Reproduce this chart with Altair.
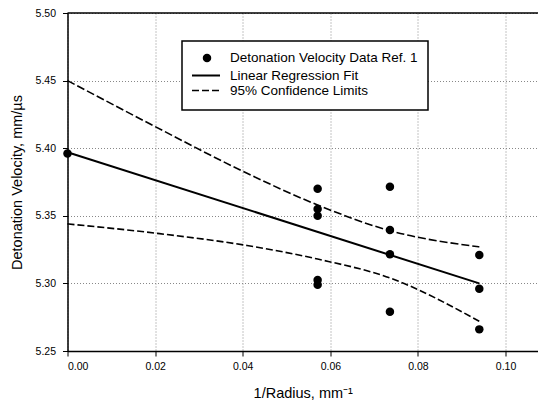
import altair as alt
import pandas as pd

# Data
x_data = [0.0, 0.0571, 0.0571, 0.0571, 0.0571, 0.0571, 0.0736, 0.0736, 0.0736, 0.0736, 0.094, 0.094, 0.094]
y_data = [5.396, 5.370, 5.355, 5.350, 5.3025, 5.299, 5.3715, 5.3395, 5.3215, 5.279, 5.321, 5.296, 5.266]

fit_x = [0.0, 0.094]
fit_y = [5.397, 5.300]

upper_x = [0.0, 0.02, 0.04, 0.0571, 0.0736, 0.094]
upper_y = [5.450, 5.416, 5.383, 5.358, 5.339, 5.327]

lower_x = [0.0, 0.0205, 0.041, 0.0571, 0.0736, 0.094]
lower_y = [5.344, 5.337, 5.328, 5.318, 5.304, 5.272]

x_ticks = [0.0, 0.02, 0.04, 0.06, 0.08, 0.10]
y_ticks = [5.25, 5.30, 5.35, 5.40, 5.45, 5.50]

legend_labels = ["Detonation Velocity Data Ref. 1", "Linear Regression Fit", "95% Confidence Limits"]

FONT = "Liberation Sans"
W, H = 470.5, 338

xs = alt.Scale(domain=[0, 0.1074], nice=False, zero=False)
ys = alt.Scale(domain=[5.25, 5.50], nice=False, zero=False)

x_axis = alt.Axis(values=x_ticks, format=".2f", title="1/Radius, mm⁻¹", grid=True)
y_axis = alt.Axis(values=y_ticks, format=".2f", title="Detonation Velocity, mm/µs", grid=True)


def enc():
    return dict(
        x=alt.X("x:Q", scale=xs, axis=x_axis),
        y=alt.Y("y:Q", scale=ys, axis=y_axis),
    )


pts_df = pd.DataFrame({"x": x_data, "y": y_data})
fit_df = pd.DataFrame({"x": fit_x, "y": fit_y})
up_df = pd.DataFrame({"x": upper_x, "y": upper_y})
lo_df = pd.DataFrame({"x": lower_x, "y": lower_y})

points = alt.Chart(pts_df).mark_point(filled=True, size=72, color="black", opacity=1).encode(**enc())
fit = alt.Chart(fit_df).mark_line(color="black", strokeWidth=2).encode(**enc())
upper = alt.Chart(up_df).mark_line(color="black", strokeWidth=1.6, strokeDash=[8, 3], interpolate="monotone").encode(**enc())
lower = alt.Chart(lo_df).mark_line(color="black", strokeWidth=1.6, strokeDash=[7, 3], interpolate="monotone").encode(**enc())

one = alt.Data(values=[{}])

top_border = alt.Chart(one).mark_rule(color="black", strokeWidth=1.5).encode(
    x=alt.value(0), x2=alt.value(W), y=alt.value(0))

leg_box = alt.Chart(one).mark_rect(fill="white", stroke="black", strokeWidth=1.5).encode(
    x=alt.value(114.5), x2=alt.value(360.5), y=alt.value(28), y2=alt.value(97))
leg_pt = alt.Chart(one).mark_point(filled=True, size=72, color="black", opacity=1).encode(
    x=alt.value(139.5), y=alt.value(45))
leg_fit = alt.Chart(one).mark_rule(color="black", strokeWidth=2).encode(
    x=alt.value(124.5), x2=alt.value(152.5), y=alt.value(62.5))
leg_cl = alt.Chart(one).mark_rule(color="black", strokeWidth=1.6, strokeDash=[7, 3]).encode(
    x=alt.value(124.5), x2=alt.value(152.5), y=alt.value(77.5))

leg_texts = []
for i, lab in enumerate(legend_labels):
    yy = [45, 62.5, 77.5][i]
    leg_texts.append(
        alt.Chart(one).mark_text(align="left", baseline="middle", font=FONT, fontSize=13.5, color="black").encode(
            x=alt.value(162.5), y=alt.value(yy), text=alt.value(lab))
    )

chart = alt.layer(
    points, fit, upper, lower, top_border, leg_box, leg_pt, leg_fit, leg_cl, *leg_texts
).properties(
    width=W, height=H,
    autosize=alt.AutoSizeParams(type="none"),
    padding={"left": 59.5, "top": 5, "right": 0, "bottom": 50},
).configure_view(
    strokeOpacity=0
).configure_axis(
    domainColor="black", domainWidth=1.5,
    tickColor="black", tickWidth=1, tickSize=5,
    gridColor="#888", gridDash=[1, 2], gridWidth=1,
    labelFont=FONT, labelFontSize=10.5, labelColor="black",
    titleFont=FONT, titleFontSize=14.5, titleFontWeight="normal", titleColor="black",
).configure_axisX(
    labelPadding=5, titlePadding=15,
).configure_axisY(
    labelPadding=7, titlePadding=11,
)

chart.save("out.html", embed_options={"renderer": "svg", "actions": False})
